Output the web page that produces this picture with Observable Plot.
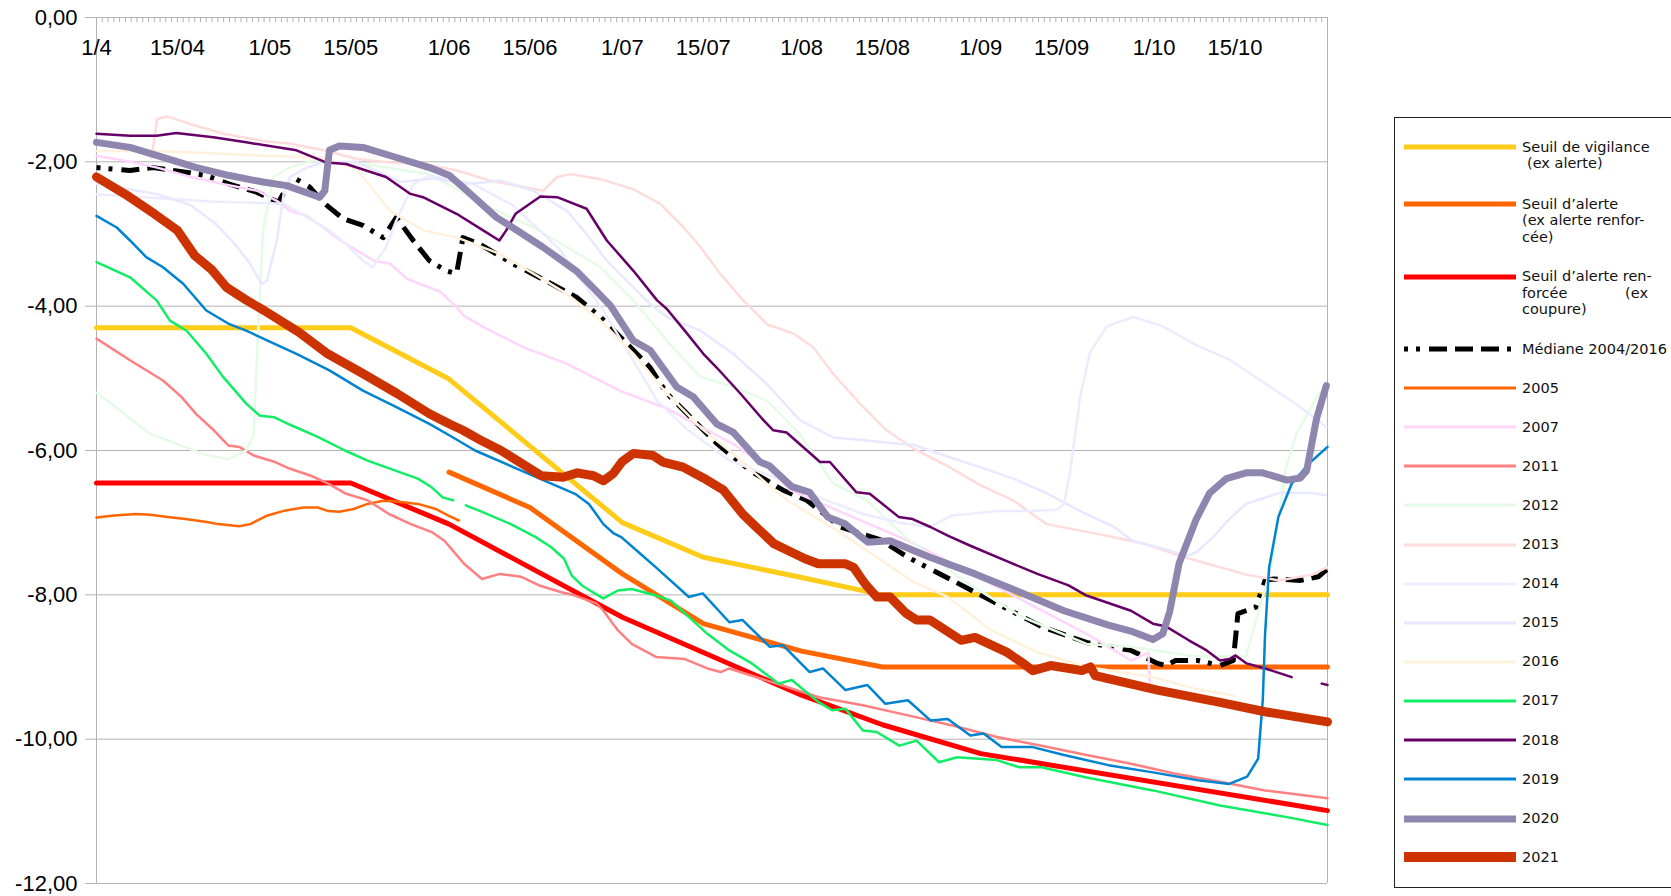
<!DOCTYPE html>
<html><head><meta charset="utf-8">
<script src="https://cdn.jsdelivr.net/npm/d3@7"></script>
<script src="https://cdn.jsdelivr.net/npm/@observablehq/plot@0.6"></script>
<style>
html,body{margin:0;padding:0;background:#fff;}
#wrap{position:relative;width:1671px;height:896px;overflow:hidden;background:#fff;}
#chart{position:absolute;left:0;top:0;}
#legend{position:absolute;left:1394px;top:117px;width:300px;height:771px;border:1px solid #222;box-sizing:border-box;font-family:"DejaVu Sans",sans-serif;font-size:14.5px;color:#111;}
.entry{position:absolute;left:0;width:290px;height:1px;}
.entry svg{position:absolute;left:9px;top:-8px;overflow:visible;}
.lbl{position:absolute;left:127px;line-height:16.5px;white-space:nowrap;}
</style></head><body><div id="wrap"><div id="chart"></div><div id="legend"></div></div>
<script>
// x = days since 1 April, y = level (m)
const tickDays = [0,14,30,44,61,75,91,105,122,136,153,167,183,197];
const tickLabels = ["1/4","15/04","1/05","15/05","1/06","15/06","1/07","15/07","1/08","15/08","1/09","15/09","1/10","15/10"];
const yTicks = [0,-2,-4,-6,-8,-10,-12];

const thrVigilance = [[0,-4.30],[44,-4.30],[61,-5.01],[91,-7.0],[105,-7.48],[122,-7.76],[136,-8.0],[213,-8.0]];
const thrAlerte = [[61,-6.30],[75,-6.79],[91,-7.71],[105,-8.40],[122,-8.78],[136,-9.0],[213,-9.0]];
const thrRenforcee = [[0,-6.45],[44,-6.45],[61,-7.02],[91,-8.31],[105,-8.80],[122,-9.39],[136,-9.80],[153,-10.20],[213,-10.99]];

const median = [[0,-2.08],[5.8,-2.12],[9.8,-2.08],[16.1,-2.15],[19,-2.19],[23,-2.31],[27.7,-2.42],[31.5,-2.56],[32.9,-2.35],[34.6,-2.24],[36.9,-2.35],[39.2,-2.56],[42.7,-2.79],[46.1,-2.88],[49.6,-3.05],[51.9,-2.77],[54.8,-3.09],[57.6,-3.37],[60.5,-3.51],[62.3,-3.55],[63.4,-3.05],[66.3,-3.14],[72,-3.41],[77.8,-3.65],[83.1,-3.88],[87.2,-4.15],[91.8,-4.52],[95.8,-4.85],[98.7,-5.21],[103.3,-5.58],[107.3,-5.9],[113.1,-6.28],[118.8,-6.55],[122.9,-6.69],[128.7,-7.06],[135.7,-7.24],[140.4,-7.48],[148.1,-7.80],[155.8,-8.12],[163.5,-8.44],[171.3,-8.66],[179,-8.77],[183.6,-8.95],[185.1,-8.98],[186.7,-8.91],[190.6,-8.91],[194.4,-8.98],[196.7,-8.91],[197.5,-8.26],[200.6,-8.17],[202.2,-7.80],[203.7,-7.78],[208.3,-7.80],[211.4,-7.75],[213,-7.64]];

const y2005 = [[0,-6.93],[3.1,-6.90],[6.8,-6.88],[9.3,-6.89],[12.3,-6.92],[15.4,-6.95],[19.1,-6.99],[21,-7.02],[24.7,-7.05],[26.6,-7.02],[29.6,-6.90],[32.7,-6.83],[35.8,-6.79],[38.3,-6.79],[40.1,-6.84],[42,-6.85],[44.5,-6.81],[46.9,-6.74],[49.4,-6.70],[51.2,-6.70],[55.6,-6.74],[58.7,-6.81],[60.8,-6.90],[62.7,-6.97]];

const y2007 = [[0,-1.92],[4.7,-1.98],[10.5,-2.08],[16.3,-2.21],[22,-2.31],[27.8,-2.40],[31.2,-2.54],[33.5,-2.68],[36.4,-2.75],[39.3,-2.91],[42.2,-3.09],[45.1,-3.23],[48,-3.37],[50.8,-3.41],[53.7,-3.62],[59.5,-3.8],[62.4,-4.02],[63.5,-4.13],[68.1,-4.34],[73.9,-4.57],[81.4,-4.8],[90.8,-5.18],[98.7,-5.42],[110.2,-5.91],[116,-6.23],[120,-6.55],[140.4,-7.25],[155.8,-7.89],[171.3,-8.54],[179,-8.91],[182,-8.8],[182.3,-9.3]];

const y2011 = [[0,-4.45],[5.8,-4.75],[11.5,-5.03],[14.6,-5.25],[17.3,-5.50],[20.3,-5.72],[22.8,-5.93],[24.7,-5.95],[27.2,-6.07],[30.9,-6.16],[33.4,-6.25],[37.1,-6.35],[40.1,-6.46],[43.2,-6.60],[46.9,-6.69],[50.6,-6.88],[54.4,-7.02],[58,-7.13],[60.2,-7.25],[61.7,-7.39],[63.6,-7.57],[66.7,-7.78],[69.8,-7.71],[73.5,-7.75],[76.6,-7.87],[80.3,-7.96],[82.8,-8.01],[86.5,-8.12],[87.7,-8.22],[90.2,-8.49],[92.6,-8.68],[96.8,-8.86],[101.8,-8.89],[105.7,-9.02],[108,-9.07],[109.5,-9.02],[125,-9.42],[132.6,-9.53],[140.4,-9.67],[148.1,-9.81],[155.8,-9.97],[163.5,-10.09],[171.3,-10.22],[179,-10.34],[186.7,-10.48],[194.4,-10.59],[202.2,-10.71],[213,-10.82]];

const y2012 = [[0,-5.2],[1.9,-5.31],[9.3,-5.77],[18.5,-6.05],[22.8,-6.12],[25.9,-6.0],[27.2,-5.77],[27.6,-5.0],[28.8,-2.95],[30.6,-2.21],[33.4,-2.08],[37.5,-1.98],[46.1,-2.03],[57.6,-2.17],[68.1,-2.63],[75.6,-2.91],[81.4,-3.18],[87.2,-3.46],[92.9,-3.92],[98.7,-4.48],[104.5,-4.98],[110.2,-5.12],[116,-5.31],[121.7,-5.77],[127.5,-6.46],[133.3,-6.69],[140,-7.2],[150,-7.8],[160,-8.3],[171.3,-8.68],[179,-8.72],[190,-8.85],[198.9,-8.85],[203.4,-7.57],[205.7,-6.28],[207.6,-5.77],[211.6,-5.2],[212.8,-5.15]];

const y2013 = [[9.5,-1.95],[10.5,-1.41],[12.2,-1.37],[16.3,-1.48],[22,-1.61],[28.9,-1.71],[33.5,-1.75],[39.3,-1.84],[45.1,-1.96],[50.8,-2.01],[56.6,-2.03],[62.4,-2.12],[68.1,-2.26],[73.9,-2.35],[77.3,-2.40],[79.7,-2.21],[82,-2.17],[87.2,-2.24],[92.9,-2.38],[97.5,-2.58],[101.6,-2.91],[104.5,-3.18],[107.9,-3.55],[111.9,-3.92],[116,-4.25],[120.6,-4.38],[124,-4.57],[127.5,-4.94],[132.1,-5.35],[136.7,-5.72],[141.3,-5.97],[147.1,-6.21],[152.9,-6.48],[158.6,-6.69],[164.4,-7.02],[170.2,-7.11],[175.9,-7.2],[181.7,-7.30],[187.4,-7.46],[193.2,-7.59],[198.9,-7.72],[204.6,-7.80],[210.4,-7.72],[212.9,-7.62]];

const y2014 = [[0,-2.45],[10,-2.5],[20,-2.55],[32.3,-2.58],[36,-2.75],[40.3,-2.95],[43.2,-3.14],[46.1,-3.37],[47.8,-3.46],[50.1,-3.18],[51.9,-2.81],[54.8,-2.31],[57.6,-2.19],[65,-2.3],[72,-2.6],[80,-3.2],[88,-4.1],[97,-5.31],[101.8,-5.68],[109.5,-6.14],[117.2,-6.37],[125,-6.65],[132.7,-6.88],[139,-7.0],[144.2,-7.06],[148.1,-6.9],[155.8,-6.84],[161.6,-6.84],[166.2,-6.82],[167.4,-6.74],[168.5,-6.28],[170.2,-5.26],[171.9,-4.64],[174.8,-4.28],[179.4,-4.15],[184.5,-4.28],[190.3,-4.54],[196,-4.74],[201.8,-5.05],[207.6,-5.36],[212.8,-5.67]];

const y2015 = [[0,-2.3],[10.5,-2.45],[16.3,-2.6],[20.5,-2.85],[23.5,-3.1],[26.5,-3.4],[28.5,-3.69],[29.5,-3.65],[31.2,-3.09],[32.4,-2.44],[33.5,-2.21],[36.4,-2.08],[39.3,-2.01],[45,-2.0],[52.6,-2.28],[58.3,-2.23],[64.1,-2.31],[69.9,-2.26],[75.6,-2.40],[81.4,-2.68],[84.8,-3.0],[88.3,-3.37],[92.9,-3.74],[95.8,-3.97],[98.7,-4.15],[104.5,-4.34],[110.2,-4.66],[116,-5.08],[121.7,-5.58],[127.5,-5.82],[133.3,-5.86],[139,-5.91],[141.3,-5.92],[147.1,-6.08],[152.9,-6.23],[158.6,-6.39],[164.4,-6.59],[170.2,-6.84],[175.9,-7.05],[179.4,-7.26],[184.6,-7.36],[188.6,-7.46],[190.3,-7.41],[193.2,-7.2],[196,-6.95],[198.9,-6.74],[204.6,-6.59],[210.4,-6.59],[212.7,-6.62]];

const y2016 = [[0,-1.85],[10,-1.85],[20,-1.88],[30,-1.92],[39,-1.94],[45,-2.1],[48,-2.4],[50.8,-2.68],[56.6,-2.95],[62.4,-3.05],[69.9,-3.28],[75.6,-3.55],[81.4,-3.83],[87.2,-4.2],[92.9,-4.66],[98.7,-5.21],[104.5,-5.68],[110.2,-6.05],[116,-6.46],[119.5,-6.69],[128,-7.1],[135.6,-7.51],[141.3,-7.82],[147.1,-8.02],[155,-8.5],[163,-8.8],[171.3,-9.0],[182.8,-9.14],[190,-9.3],[197,-9.4]];

const y2017 = [[0,-3.39],[5.8,-3.60],[10.4,-3.92],[12.7,-4.20],[15.6,-4.34],[19,-4.66],[21.9,-4.98],[23,-5.08],[25.9,-5.35],[28.3,-5.52],[30.8,-5.54],[33.4,-5.64],[38,-5.80],[43,-6.0],[46.9,-6.14],[55.6,-6.39],[58,-6.51],[59.9,-6.65],[61.7,-6.69],[62.8,NaN],[63.9,-6.76],[66.1,-6.83],[71.7,-7.02],[76,-7.20],[78.7,-7.34],[80.9,-7.50],[82.2,-7.73],[84,-7.87],[85.8,-7.96],[87.7,-8.05],[90.2,-7.94],[92.6,-7.92],[96.8,-8.01],[99.4,-8.08],[105.7,-8.54],[109.5,-8.77],[113.4,-8.95],[118,-9.23],[120.3,-9.18],[125,-9.49],[127.3,-9.60],[129.6,-9.58],[132.6,-9.88],[135,-9.90],[138.9,-10.09],[141.9,-10.02],[145.8,-10.32],[148.9,-10.25],[155.8,-10.29],[159.7,-10.39],[163.5,-10.39],[171.3,-10.53],[182.8,-10.71],[194.4,-10.92],[206,-11.08],[213,-11.19]];

const y2018 = [[0,-1.61],[5.8,-1.64],[10.4,-1.64],[13.8,-1.60],[20.2,-1.66],[25.9,-1.73],[34.6,-1.84],[39.8,-2.01],[43.2,-2.03],[50.1,-2.21],[54.2,-2.44],[56.5,-2.49],[62.3,-2.72],[66.9,-2.95],[69.7,-3.09],[70.9,-2.95],[72.5,-2.72],[76.8,-2.48],[79.7,-2.49],[84.8,-2.65],[88.3,-3.09],[92.9,-3.51],[97,-3.92],[98.7,-4.04],[102.2,-4.38],[105,-4.66],[107.3,-4.85],[111.4,-5.21],[115.4,-5.58],[117.1,-5.72],[119.4,-5.75],[125.2,-6.16],[126.9,-6.16],[131.5,-6.58],[133.8,-6.6],[138.8,-6.92],[141.2,-6.95],[144.3,-7.06],[147.3,-7.18],[151.2,-7.32],[157.4,-7.53],[162.8,-7.71],[168.2,-7.87],[171.3,-8.01],[179,-8.22],[182.8,-8.40],[185.1,-8.44],[189,-8.63],[192.1,-8.77],[194.4,-8.91],[196,-8.89],[197.1,-8.84],[199,-8.95],[202.2,-9.02],[206.8,-9.14],[209,NaN],[212,-9.23],[213,-9.25]];

const y2019 = [[0,-2.75],[3.5,-2.91],[5.8,-3.09],[8.6,-3.32],[11.5,-3.46],[15,-3.69],[19,-4.06],[23,-4.25],[25.9,-4.34],[34.6,-4.66],[40.3,-4.89],[46.1,-5.17],[51.9,-5.40],[57.6,-5.63],[61.7,-5.82],[65.5,-6.0],[74.1,-6.30],[82.8,-6.60],[85.2,-6.74],[87.7,-7.02],[89.5,-7.15],[90.8,-7.20],[94.1,-7.43],[96.8,-7.62],[102.5,-8.03],[104.9,-7.98],[109.5,-8.38],[111.8,-8.35],[116.5,-8.72],[118.8,-8.70],[123.4,-9.07],[125.7,-9.02],[129.6,-9.32],[133.4,-9.25],[136.5,-9.51],[140.4,-9.46],[144.3,-9.74],[147.3,-9.72],[151.2,-9.95],[153.5,-9.92],[156.6,-10.11],[162,-10.11],[167.4,-10.22],[175.1,-10.36],[182.8,-10.46],[190.6,-10.57],[196,-10.62],[199.1,-10.52],[201,-10.27],[201.8,-9.46],[202.2,-8.54],[202.9,-7.62],[204.5,-6.92],[206.8,-6.46],[209.8,-6.18],[213,-5.95]];

const y2020 = [[0,-1.73],[5.8,-1.80],[10.4,-1.91],[17.3,-2.08],[23,-2.19],[28.8,-2.28],[32.9,-2.33],[38.6,-2.49],[39.5,-2.4],[40.3,-1.84],[42,-1.78],[46.1,-1.80],[51.9,-1.94],[57.6,-2.08],[61.1,-2.19],[63.4,-2.35],[69.2,-2.77],[72,-2.91],[77.2,-3.18],[83,-3.51],[86,-3.75],[88.9,-3.99],[92.9,-4.48],[95.8,-4.61],[100.4,-5.12],[103.3,-5.26],[107.3,-5.63],[110.2,-5.75],[114.8,-6.16],[116.4,-6.21],[120.3,-6.5],[123.4,-6.58],[126.5,-6.92],[129.6,-7.02],[133.4,-7.27],[137.3,-7.25],[144.2,-7.48],[152,-7.71],[159.7,-7.96],[167.4,-8.22],[175.1,-8.42],[179.3,-8.51],[182.8,-8.62],[184.5,-8.54],[185.7,-8.23],[187.3,-7.57],[190.3,-6.95],[192.6,-6.59],[195.5,-6.39],[198.9,-6.31],[201.8,-6.31],[206,-6.41],[208.3,-6.38],[209.4,-6.28],[211.1,-5.56],[212.8,-5.10]];

const y2021 = [[0,-2.21],[5,-2.45],[10,-2.72],[14,-2.95],[17,-3.3],[20,-3.5],[22.5,-3.74],[26,-3.92],[29,-4.06],[35,-4.36],[40,-4.66],[46,-4.93],[52,-5.21],[57.6,-5.49],[61,-5.63],[63.4,-5.72],[67,-5.88],[70,-6.0],[73,-6.15],[77,-6.35],[80.7,-6.37],[83.2,-6.31],[86,-6.35],[87.7,-6.42],[89.4,-6.32],[91,-6.15],[92.9,-6.04],[96.3,-6.07],[98,-6.16],[101.5,-6.23],[105,-6.38],[108.5,-6.55],[111.8,-6.88],[114,-7.05],[117.2,-7.29],[120,-7.4],[122.6,-7.50],[124.9,-7.57],[129.6,-7.57],[131,-7.62],[133,-7.85],[135,-8.03],[137.3,-8.03],[140,-8.25],[141.9,-8.35],[144.2,-8.35],[149.6,-8.63],[152,-8.59],[157.4,-8.79],[160,-8.93],[162,-9.05],[165.1,-8.98],[170.5,-9.05],[172,-9.0],[172.8,-9.12],[183.6,-9.32],[194.4,-9.49],[202.2,-9.62],[213,-9.76]];

const medianDash = "4,8,4,9,18,8,18,8,18,8";
const series = [
  {label:"Seuil de vigilance\n (ex alerte)", data:thrVigilance, stroke:"#ffcc1a", w:5},
  {label:"Seuil d’alerte\n(ex alerte renfor-\ncée)", data:thrAlerte, stroke:"#ff6600", w:5},
  {label:"Seuil d’alerte ren-\nforcée|(ex\ncoupure)", data:thrRenforcee, stroke:"#ff0000", w:5},
  {label:"Médiane 2004/2016", data:median, stroke:"#000000", w:5, dash:medianDash},
  {label:"2005", data:y2005, stroke:"#ff6600", w:2.5},
  {label:"2007", data:y2007, stroke:"#ffd5fb", w:2.5},
  {label:"2011", data:y2011, stroke:"#ff8080", w:2.5},
  {label:"2012", data:y2012, stroke:"#e6fbe6", w:2.5},
  {label:"2013", data:y2013, stroke:"#ffdcdc", w:2.5},
  {label:"2014", data:y2014, stroke:"#ececfe", w:2.5},
  {label:"2015", data:y2015, stroke:"#e8e8ff", w:2.5},
  {label:"2016", data:y2016, stroke:"#fff1dc", w:2.5},
  {label:"2017", data:y2017, stroke:"#11ee66", w:2.5},
  {label:"2018", data:y2018, stroke:"#660066", w:2.5},
  {label:"2019", data:y2019, stroke:"#0084d1", w:2.5},
  {label:"2020", data:y2020, stroke:"#8e86ae", w:7},
  {label:"2021", data:y2021, stroke:"#cc3300", w:9}
];
const legendY = [147,204,276.5,349,388.3,427.3,466,505,544.5,583.5,622.5,661.5,700.5,740,779,818.5,857];

const minorDays = d3.range(0, 214);
const fmt = d => d.toFixed(2).replace(".", ",");

const marks = [
  Plot.ruleY(yTicks, {stroke:"#b3b3b3", strokeWidth:1}),
  Plot.ruleX([0, 213], {stroke:"#b3b3b3", strokeWidth:1}),
  Plot.ruleX(minorDays, {y1:0, y2:-0.075, stroke:"#b3b3b3", strokeWidth:1}),
  Plot.ruleY(yTicks, {x1:-1.9, x2:0, stroke:"#b3b3b3", strokeWidth:1}),
  Plot.text(yTicks, {x:0, y:d=>d, dx:-19, textAnchor:"end", text:fmt, fontSize:22, fill:"#000"}),
  Plot.text(tickDays, {x:d=>d, y:0, dy:30, text:(d,i)=>tickLabels[i], fontSize:22, fill:"#000"})
];
for (const s of series) {
  marks.push(Plot.line(s.data, {x:d=>d[0], y:d=>d[1], stroke:s.stroke, strokeWidth:s.w,
    strokeDasharray:s.dash, strokeLinejoin:"round", strokeLinecap:s.dash ? "butt" : "round"}));
}

const chart = Plot.plot({
  width:1340, height:896,
  marginLeft:96, marginRight:13, marginTop:17, marginBottom:13,
  x:{domain:[0,213], axis:null},
  y:{domain:[-12,0], axis:null},
  style:{fontFamily:"'Liberation Sans', Arial, sans-serif", background:"transparent", overflow:"visible"},
  marks
});
document.getElementById("chart").appendChild(chart);

// legend
const leg = document.getElementById("legend");
series.forEach((s, i) => {
  const e = document.createElement("div");
  e.className = "entry";
  e.style.top = (legendY[i] - 118) + "px";
  const ns = "http://www.w3.org/2000/svg";
  const sv = document.createElementNS(ns, "svg");
  sv.setAttribute("width", 112); sv.setAttribute("height", 16);
  const ln = document.createElementNS(ns, "line");
  ln.setAttribute("x1", 0); ln.setAttribute("x2", 112);
  ln.setAttribute("y1", 8); ln.setAttribute("y2", 8);
  ln.setAttribute("stroke", s.stroke);
  ln.setAttribute("stroke-width", s.w === 9 ? 10 : (s.w === 7 ? 7 : (s.w === 2.5 ? 3 : 5)));
  if (s.dash) ln.setAttribute("stroke-dasharray", s.dash);
  sv.appendChild(ln);
  e.appendChild(sv);
  const lb = document.createElement("div");
  lb.className = "lbl";
  lb.style.top = "-8.25px";
  s.label.split("\n").forEach(line => {
    const d = document.createElement("div");
    if (line.includes("|")) {
      d.style.display = "flex"; d.style.justifyContent = "space-between"; d.style.width = "126px";
      line.split("|").forEach(p => { const sp = document.createElement("span"); sp.textContent = p; d.appendChild(sp); });
    } else if (line.startsWith(" ")) {
      d.style.paddingLeft = "5px"; d.textContent = line.trim();
    } else d.textContent = line;
    lb.appendChild(d);
  });
  e.appendChild(lb);
  leg.appendChild(e);
});
</script></body></html>
